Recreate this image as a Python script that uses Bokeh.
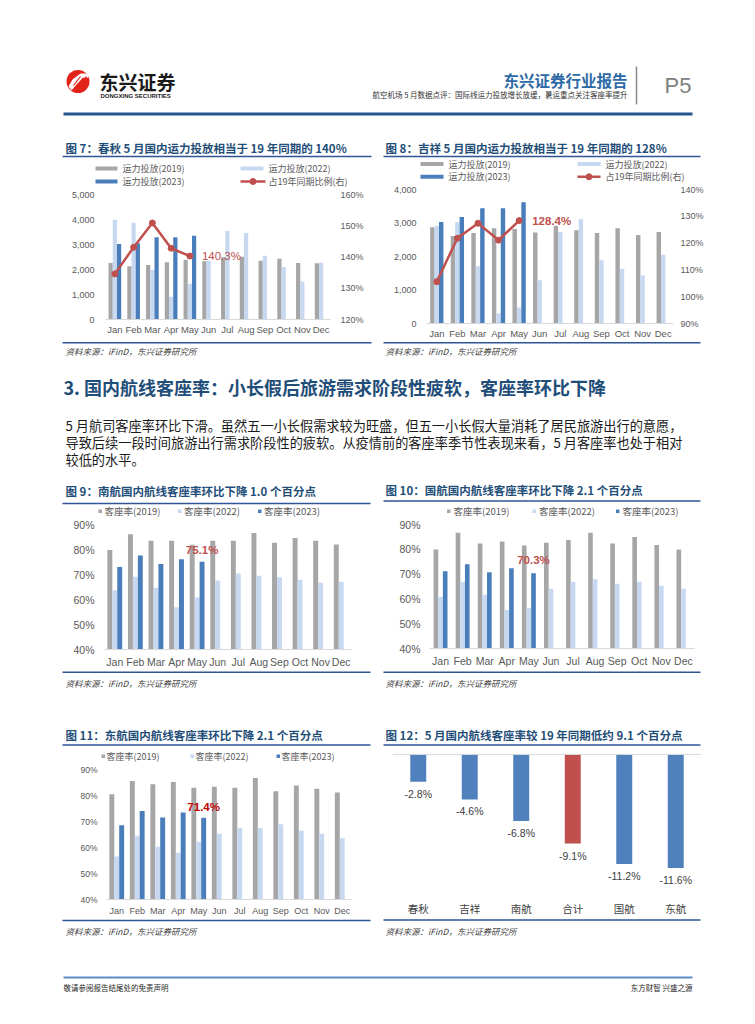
from bokeh.plotting import figure
from bokeh.layouts import column, row
from bokeh.models import (Range1d, FactorRange, ColumnDataSource, LinearAxis, FixedTicker,
                          NumeralTickFormatter, PrintfTickFormatter, Span)
from bokeh.transform import dodge
from bokeh.core.properties import value
from bokeh.embed import file_html
from bokeh.resources import INLINE

# ---------------- data ----------------
months = ["Jan", "Feb", "Mar", "Apr", "May", "Jun", "Jul", "Aug", "Sep", "Oct", "Nov", "Dec"]
months_23 = months[:5]

# 图7 春秋 运力投放
cq_cap_2019 = [2260, 2130, 2180, 2290, 2390, 2330, 2490, 2510, 2350, 2430, 2260, 2250]
cq_cap_2022 = [3990, 3870, 1990, 910, 1430, 2350, 3540, 3460, 2550, 2100, 1520, 2270]
cq_cap_2023 = [3020, 3050, 3290, 3290, 3350]
cq_ratio = [134.6, 143.1, 150.9, 142.8, 140.3]

# 图8 吉祥 运力投放
jx_cap_2019 = [2870, 2610, 2700, 2840, 2820, 2720, 2920, 2780, 2700, 2840, 2640, 2730]
jx_cap_2022 = [2920, 3020, 1710, 300, 480, 1290, 2730, 3120, 1890, 1630, 1430, 2050]
jx_cap_2023 = [3030, 3180, 3440, 3440, 3620]
jx_ratio = [105.6, 121.8, 127.4, 121.1, 128.4]

# 图9 南航 客座率
cs_lf_2019 = [79.8, 86.1, 83.5, 83.5, 81.9, 83.5, 83.5, 86.6, 82.7, 84.6, 83.5, 82.0]
cs_lf_2022 = [63.7, 69.1, 64.7, 56.9, 60.8, 67.6, 70.4, 69.5, 68.9, 67.9, 66.7, 67.1]
cs_lf_2023 = [73.0, 77.6, 74.2, 76.1, 75.1]

# 图10 国航 客座率
ca_lf_2019 = [79.9, 86.7, 82.3, 83.1, 81.5, 82.6, 83.8, 86.7, 82.3, 85.0, 81.7, 79.9]
ca_lf_2022 = [60.8, 66.9, 61.7, 55.5, 56.3, 64.1, 66.9, 67.9, 66.1, 66.9, 65.3, 64.1]
ca_lf_2023 = [71.1, 74.0, 70.7, 72.4, 70.3]

# 图11 东航 客座率
ce_lf_2019 = [80.5, 85.6, 84.3, 85.2, 83.0, 83.4, 83.0, 86.7, 81.6, 83.8, 82.6, 81.2]
ce_lf_2022 = [56.5, 64.5, 60.3, 58.0, 62.2, 65.3, 67.5, 67.5, 68.9, 66.4, 65.3, 63.6]
ce_lf_2023 = [68.6, 74.0, 71.5, 73.5, 71.4]

# 图12 5月客座率较19年同期
airlines = ["春秋", "吉祥", "南航", "合计", "国航", "东航"]
lf_gap = [-2.8, -4.6, -6.8, -9.1, -11.2, -11.6]

# ---------------- styles ----------------
CJK = "Noto Sans CJK SC"
SANS = "Liberation Sans"
TITLE_C = "#1f4e79"
LINE_C = "#2f5597"
GRAY = "#a6a6a6"
LIGHT = "#c6d9f1"
BLUE = "#4a7ebb"
RED = "#c0504d"
AX_C = "#595959"
SOURCE = "资料来源：iFinD，东兴证券研究所"


def deco(x0, y0, w, h):
    p = figure(width=w, height=h, x_range=Range1d(x0, x0 + w), y_range=Range1d(y0 + h, y0),
               x_axis_location=None, y_axis_location=None, toolbar_location=None,
               output_backend="svg", min_border=0, outline_line_color=None)
    p.grid.visible = False
    return p


def txt(p, x, y, s, size, color, font=CJK, style="normal", align="left", baseline="middle"):
    p.text(x=[x], y=[y], text=[s], text_font=value(font), text_font_size=size,
           text_color=color, text_font_style=style, text_align=align, text_baseline=baseline)


def hline(p, x1, x2, y, color, width):
    p.line(x=[x1, x2], y=[y, y], line_color=color, line_width=width)


def leg_box(p, x, cy, w, h, color, label, tx, fs):
    p.quad(left=[x], right=[x + w], top=[cy - h / 2], bottom=[cy + h / 2],
           fill_color=color, line_color=None)
    txt(p, tx, cy, label, fs, AX_C)


def leg_line(p, x, cy, w, label, tx, fs):
    hline(p, x, x + w, cy, RED, 2.5)
    p.scatter(x=[x + w / 2], y=[cy], size=6, marker="circle", fill_color=RED, line_color=RED)
    txt(p, tx, cy, label, fs, AX_C)


def top_panel(x0, y0, w, h, title, tx, ty, ux1, ux2, uy):
    p = deco(x0, y0, w, h)
    txt(p, tx, ty, title, "11.5px", TITLE_C, style="bold")
    hline(p, ux1, ux2, uy, LINE_C, 1.5)
    return p


def bottom_panel(x0, y0, w, h, lx1, lx2, ly, sx, sy):
    p = deco(x0, y0, w, h)
    hline(p, lx1, lx2, ly, LINE_C, 1.5)
    txt(p, sx, sy, SOURCE, "8.5px", "#404040", style="italic")
    return p


def chart(x0, y0, w, h, fl, fr, ft, fb, xr, yr, y_axis=True):
    p = figure(width=w, height=h, x_range=xr, y_range=yr, toolbar_location=None,
               output_backend="svg", outline_line_color=None,
               min_border_left=fl - x0, min_border_right=x0 + w - fr,
               min_border_top=ft - y0, min_border_bottom=y0 + h - fb,
               y_axis_location="left" if y_axis else None)
    p.grid.visible = False
    return p


def style_axis(ax, size, standoff, font=SANS, color=AX_C, line=None):
    ax.axis_line_color = line
    ax.major_tick_line_color = None
    ax.minor_tick_line_color = None
    ax.major_tick_out = 0
    ax.major_tick_in = 0
    ax.major_label_text_font = font
    ax.major_label_text_font_size = size
    ax.major_label_text_color = color
    ax.major_label_standoff = standoff


def make_cap(x0, y0, w, h, fl, fr, ft, fb, v19, v22, v23, ratio, ymax, rlo, rhi, bw,
             lbl_style, lbl_xoff, ystd_l, ystd_r):
    p = chart(x0, y0, w, h, fl, fr, ft, fb, FactorRange(factors=months), Range1d(0, ymax))
    p.extra_y_ranges = {"r": Range1d(rlo, rhi)}
    s_all = ColumnDataSource(dict(m=months, a=v19, b=v22))
    s_23 = ColumnDataSource(dict(m=months_23, c=v23, r=ratio))
    p.vbar(x=dodge("m", -bw, range=p.x_range), top="a", width=bw, source=s_all,
           fill_color=GRAY, line_color=None)
    p.vbar(x=dodge("m", 0, range=p.x_range), top="b", width=bw, source=s_all,
           fill_color=LIGHT, line_color=None)
    p.vbar(x=dodge("m", bw, range=p.x_range), top="c", width=bw, source=s_23,
           fill_color=BLUE, line_color=None)
    p.line(x="m", y="r", source=s_23, y_range_name="r", line_color=RED, line_width=2.5)
    p.scatter(x="m", y="r", source=s_23, y_range_name="r", size=6, marker="circle",
              fill_color=RED, line_color=RED)
    p.text(x=[months_23[-1]], y=[ratio[-1]], text=[f"{ratio[-1]:.1f}%"], y_range_name="r",
           x_offset=lbl_xoff, text_align="left", text_baseline="middle",
           text_font=value(SANS), text_font_size="11.5px", text_color=RED,
           text_font_style=lbl_style)
    la = p.yaxis[0]
    la.ticker = FixedTicker(ticks=list(range(0, ymax + 1, 1000)))
    la.formatter = NumeralTickFormatter(format="0,0")
    style_axis(la, "9px", ystd_l)
    ra = LinearAxis(y_range_name="r", ticker=FixedTicker(ticks=list(range(rlo, rhi + 1, 10))),
                    formatter=PrintfTickFormatter(format="%d%%"))
    style_axis(ra, "9px", ystd_r)
    p.add_layout(ra, "right")
    style_axis(p.xaxis[0], "9.5px", 4, line="#d9d9d9")
    return p


def make_lf(x0, y0, w, h, fl, fr, ft, fb, v19, v22, v23, bw, fs_x, fs_y, std_x, std_y,
            lbl_color, lbl_fs, lbl_yoff):
    p = chart(x0, y0, w, h, fl, fr, ft, fb, FactorRange(factors=months), Range1d(40, 90))
    s_all = ColumnDataSource(dict(m=months, a=v19, b=v22))
    s_23 = ColumnDataSource(dict(m=months_23, c=v23))
    p.vbar(x=dodge("m", -bw, range=p.x_range), top="a", bottom=40, width=bw,
           source=s_all, fill_color=GRAY, line_color=None)
    p.vbar(x=dodge("m", 0, range=p.x_range), top="b", bottom=40, width=bw,
           source=s_all, fill_color=LIGHT, line_color=None)
    p.vbar(x=dodge("m", bw, range=p.x_range), top="c", bottom=40, width=bw,
           source=s_23, fill_color=BLUE, line_color=None)
    s_lbl = ColumnDataSource(dict(m=[months_23[-1]], v=[v23[-1]], t=[f"{v23[-1]:.1f}%"]))
    p.text(x=dodge("m", bw, range=p.x_range), y="v", text="t", source=s_lbl,
           y_offset=-lbl_yoff, text_align="center", text_baseline="bottom",
           text_font=value(SANS), text_font_size=lbl_fs, text_color=lbl_color,
           text_font_style="bold")
    la = p.yaxis[0]
    la.ticker = FixedTicker(ticks=[40, 50, 60, 70, 80, 90])
    la.formatter = PrintfTickFormatter(format="%d%%")
    style_axis(la, fs_y, std_y)
    style_axis(p.xaxis[0], fs_x, std_x, line="#d9d9d9")
    return p


def stack(*plots):
    # wrap each plot so that sibling plot frames are not aligned to each other
    return column(*[row(pl) for pl in plots])


LF_LABELS = ["客座率(2019)", "客座率(2022)", "客座率(2023)"]
CAP_LABELS = ["运力投放(2019)", "运力投放(2022)", "运力投放(2023)", "占19年同期比例(右)"]

# ---------------- header ----------------
header = deco(0, 0, 755, 135)
header.scatter(x=[77.5], y=[81], size=23, marker="circle", fill_color="#e2231a", line_color=None)
header.patch(x=[68, 72, 80, 87, 88, 82, 76, 71], y=[86, 79, 73, 73, 77, 78, 84, 90],
             fill_color="white", line_color=None)
header.multi_line(xs=[[73, 80], [76, 83], [79, 86]], ys=[[85, 76], [86, 77], [84, 76]],
                  line_color="#e2231a", line_width=1.2)
txt(header, 99, 81, "东兴证券", "19px", "#1a1a1a", style="bold")
txt(header, 100, 95.5, "DONGXING SECURITIES", "6px", "#1a1a1a", font=SANS, style="bold")
txt(header, 627, 79, "东兴证券行业报告", "15.5px", "#2e6aa6", style="bold", align="right")
txt(header, 627, 94, "航空机场 5 月数据点评：国际线运力投放增长放缓，暑运重点关注客座率提升",
    "7.5px", "#333333", align="right")
header.line(x=[636, 636], y=[66, 104], line_color="#8c8c8c", line_width=1.5)
txt(header, 664, 85, "P5", "22px", "#808080", font=SANS)
hline(header, 63, 692, 113.5, "#24558f", 3)

# ---------------- row 1: 图7 / 图8 ----------------
top7 = top_panel(0, 135, 378, 54, "图 7：春秋 5 月国内运力投放相当于 19 年同期的 140%",
                 65, 147.5, 62, 371, 156)
leg_box(top7, 95, 168, 22, 4, GRAY, CAP_LABELS[0], 122, "9px")
leg_box(top7, 240, 168, 23, 4, LIGHT, CAP_LABELS[1], 268, "9px")
leg_box(top7, 95, 181, 22, 4, BLUE, CAP_LABELS[2], 122, "9px")
leg_line(top7, 240, 181, 25, CAP_LABELS[3], 268, "9px")
ch7 = make_cap(0, 189, 378, 152, 105, 330, 194, 319, cq_cap_2019, cq_cap_2022, cq_cap_2023,
               cq_ratio, 5000, 120, 160, 0.225, "normal", 12, 11, 10)
bot7 = bottom_panel(0, 341, 378, 17, 62, 371, 342.3, 65, 350.5)

top8 = top_panel(378, 135, 377, 49, "图 8：吉祥 5 月国内运力投放相当于 19 年同期的 128%",
                 385, 147.5, 383, 700, 156)
leg_box(top8, 420, 163.5, 23, 4, GRAY, CAP_LABELS[0], 448, "9px")
leg_box(top8, 577, 163.5, 23, 4, LIGHT, CAP_LABELS[1], 605, "9px")
leg_box(top8, 420, 176.3, 23, 4, BLUE, CAP_LABELS[2], 448, "9px")
leg_line(top8, 577, 176.3, 23, CAP_LABELS[3], 605, "9px")
ch8 = make_cap(378, 184, 377, 157, 426, 673, 189, 324, jx_cap_2019, jx_cap_2022, jx_cap_2023,
               jx_ratio, 4000, 90, 140, 0.215, "bold", 13, 10, 7)
bot8 = bottom_panel(378, 341, 377, 17, 383, 700, 342.3, 385, 350.5)

# ---------------- section text ----------------
sec = deco(0, 358, 755, 114)
txt(sec, 63, 386, "3. 国内航线客座率：小长假后旅游需求阶段性疲软，客座率环比下降", "18px",
    TITLE_C, style="bold")
para = ["5 月航司客座率环比下滑。虽然五一小长假需求较为旺盛，但五一小长假大量消耗了居民旅游出行的意愿，",
        "导致后续一段时间旅游出行需求阶段性的疲软。从疫情前的客座率季节性表现来看，5 月客座率也处于相对",
        "较低的水平。"]
for i, line_text in enumerate(para):
    txt(sec, 65, 425 + i * 17.2, line_text, "13.2px", "#1a1a1a")

# ---------------- row 2: 图9 / 图10 ----------------
top9 = top_panel(0, 472, 378, 46, "图 9：南航国内航线客座率环比下降 1.0 个百分点",
                 65, 490, 62, 370, 503)
for lab, col, lx in zip(LF_LABELS, [GRAY, LIGHT, BLUE], [98, 177.5, 257.5]):
    leg_box(top9, lx, 510.8, 3.5, 3.5, col, lab, lx + 6, "9.5px")
ch9 = make_lf(0, 518, 378, 152, 104, 351, 524, 649, cs_lf_2019, cs_lf_2022, cs_lf_2023, 0.24,
              "10.5px", "10.5px", 6, 10, RED, "11.5px", 6)
bot9 = bottom_panel(0, 670, 378, 25, 62, 370, 671.7, 65, 682)

top10 = top_panel(378, 472, 377, 46, "图 10：国航国内航线客座率环比下降 2.1 个百分点",
                  385, 489.3, 383, 700, 500.5)
for lab, col, lx in zip(LF_LABELS, [GRAY, LIGHT, BLUE], [446.5, 532, 615.5]):
    leg_box(top10, lx, 510.8, 3.5, 3.5, col, lab, lx + 6.5, "9.5px")
ch10 = make_lf(378, 518, 377, 152, 429, 694, 524, 648, ca_lf_2019, ca_lf_2022, ca_lf_2023, 0.21,
               "10.5px", "10.5px", 6, 9, RED, "11.5px", 7.5)
bot10 = bottom_panel(378, 670, 377, 25, 383, 700, 671.7, 385, 682)

# ---------------- row 3: 图11 / 图12 ----------------
top11 = top_panel(0, 695, 378, 68, "图 11：东航国内航线客座率环比下降 2.1 个百分点",
                  65, 734, 62, 370, 744.5)
for lab, col, lx in zip(LF_LABELS, [GRAY, LIGHT, BLUE], [101, 190, 276]):
    leg_box(top11, lx, 755.8, 3.5, 3.5, col, lab, lx + 5, "9px")
ch11 = make_lf(0, 763, 378, 155, 106, 352, 769, 900, ce_lf_2019, ce_lf_2022, ce_lf_2023, 0.24,
               "9px", "8.5px", 6, 9, "#c00000", "11.5px", 5)
bot11 = bottom_panel(0, 918, 378, 27, 62, 370, 920, 65, 930.5)

top12 = top_panel(378, 695, 377, 55, "图 12：5 月国内航线客座率较 19 年同期低约 9.1 个百分点",
                  385, 734, 383, 700, 744.5)
ch12 = chart(378, 750, 377, 168, 392, 701, 750, 896, FactorRange(factors=airlines),
             Range1d(-14.0, 0.4), y_axis=False)
bar_colors = [RED if a == "合计" else "#4f81bd" for a in airlines]
s12 = ColumnDataSource(dict(a=airlines, v=lf_gap, c=bar_colors, t=[f"{v:.1f}%" for v in lf_gap]))
ch12.vbar(x="a", top=0, bottom="v", width=0.31, source=s12, fill_color="c", line_color=None)
ch12.text(x="a", y="v", text="t", source=s12, y_offset=6, text_align="center",
          text_baseline="top", text_font=value(SANS), text_font_size="10.5px", text_color="#404040")
ch12.add_layout(Span(location=0, dimension="width", line_color="#d9d9d9", line_width=1))
style_axis(ch12.xaxis[0], "10.5px", 9, font=CJK, color="#404040")
bot12 = bottom_panel(378, 918, 377, 27, 383, 700, 919.5, 385, 930.5)

# ---------------- footer ----------------
footer = deco(0, 945, 755, 71)
hline(footer, 63, 692, 977, "#5b8bc5", 2)
txt(footer, 63, 986.5, "敬请参阅报告结尾处的免责声明", "7.5px", "#262626")
txt(footer, 692, 986.5, "东方财智 兴盛之源", "7.5px", "#262626", align="right")

layout = column(
    row(header),
    row(stack(top7, ch7, bot7), stack(top8, ch8, bot8)),
    row(sec),
    row(stack(top9, ch9, bot9), stack(top10, ch10, bot10)),
    row(stack(top11, ch11, bot11), stack(top12, ch12, bot12)),
    row(footer),
)

open("out.html", "w").write(file_html(layout, INLINE, title="P5"))
